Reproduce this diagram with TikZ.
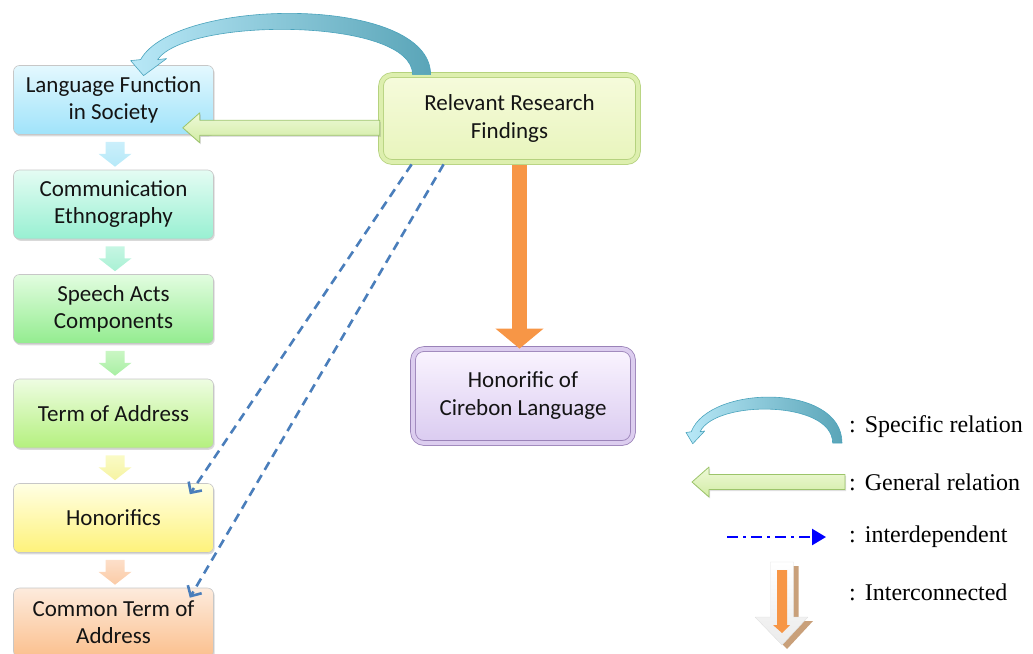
\documentclass[tikz,border=0pt]{standalone}
\usepackage{fontspec}
\setmainfont{Liberation Serif}
\newfontfamily\boxfont{Carlito}
\usetikzlibrary{arrows.meta, positioning, calc, shadows}

\definecolor{lfsTop}{HTML}{E4F8FE}
\definecolor{lfsBot}{HTML}{9FE3FA}
\definecolor{cethTop}{HTML}{E4FCF3}
\definecolor{cethBot}{HTML}{98F0D2}
\definecolor{sacTop}{HTML}{E2FDE0}
\definecolor{sacBot}{HTML}{93EC8F}
\definecolor{toaTop}{HTML}{EEFDE2}
\definecolor{toaBot}{HTML}{B4F07E}
\definecolor{honTop}{HTML}{FFFFE4}
\definecolor{honBot}{HTML}{FEF27A}
\definecolor{ctaTop}{HTML}{FDEBDD}
\definecolor{ctaBot}{HTML}{FBC08E}
\definecolor{chevA}{HTML}{CBEFFB}
\definecolor{chevB}{HTML}{B6E9F8}
\definecolor{chevC}{HTML}{C6F6E3}
\definecolor{chevD}{HTML}{A9F1D4}
\definecolor{chevE}{HTML}{CAF6C4}
\definecolor{chevF}{HTML}{A8EFA3}
\definecolor{chevG}{HTML}{FAFBC6}
\definecolor{chevH}{HTML}{F6F3A2}
\definecolor{chevI}{HTML}{FDDFC9}
\definecolor{chevJ}{HTML}{FBCBA6}
\definecolor{rrfTop}{HTML}{F6FBDC}
\definecolor{rrfBot}{HTML}{E8F5BC}
\definecolor{rrfLine}{HTML}{B5D27E}
\definecolor{rrfBand}{HTML}{DDEFAE}
\definecolor{hclTop}{HTML}{FAF4FF}
\definecolor{hclBot}{HTML}{DACBF0}
\definecolor{hclLine}{HTML}{9A82B8}
\definecolor{hclBand}{HTML}{DCCDEF}
\definecolor{specL}{HTML}{B8E8F7}
\definecolor{specR}{HTML}{5AA5B8}
\definecolor{specLine}{HTML}{4AA3BC}
\definecolor{genTop}{HTML}{EEF9D8}
\definecolor{genBot}{HTML}{D2ECA4}
\definecolor{genLine}{HTML}{9CC46A}
\definecolor{interOrange}{HTML}{F79646}
\definecolor{dashBlue}{HTML}{4A7EBB}
\definecolor{iconShadow}{HTML}{C9A07A}

\tikzstyle{stage} = [rectangle, rounded corners=6pt, minimum width=200pt, minimum height=69pt,
  align=center, draw=black!22, line width=0.6pt, font=\boxfont\fontsize{23}{27}\selectfont,
  text=black!92, drop shadow={shadow xshift=1.2pt, shadow yshift=-1.8pt, opacity=0.3}]
\tikzstyle{bigbox} = [rectangle, rounded corners=11pt, align=center, line width=0.8pt,
  double distance=4pt, font=\boxfont\fontsize{23}{28}\selectfont, text=black!92,
  drop shadow={shadow xshift=1.5pt, shadow yshift=-2pt, opacity=0.3}]
\tikzstyle{interdep} = [dashBlue, line width=2.6pt, dash pattern=on 9pt off 6pt,
  -{Straight Barb[length=8pt, width=16pt]}]
\tikzstyle{interconn} = [interOrange, line width=15pt, -{Triangle[length=20pt, width=47pt]}]
\tikzstyle{legtext} = [anchor=west, inner sep=0pt, font=\fontsize{24}{28}\selectfont]
\tikzstyle{legdash} = [blue, line width=2.5pt, dash pattern=on 11pt off 5pt on 3pt off 5pt,
  -{Triangle[length=14pt, width=16pt]}]

% block chevron between two stacked boxes
\newcommand{\stepdown}[4]{%
  \shade[top color=#3, bottom color=#4]
    ($(#1.south)+(-8,-7)$) -- ($(#1.south)+(11,-7)$) -- ($(#1.south)+(11,-19)$)
    -- ($(#1.south)+(18,-19)$) -- ($(#2.north)+(1.5,3)$) -- ($(#1.south)+(-15,-19)$)
    -- ($(#1.south)+(-8,-19)$) -- cycle;}

% curved ribbon, origin at its right foot
\newcommand{\specificarrow}{%
  \shade[left color=specL, right color=specR, draw=specLine, line width=0.6pt]
    (0,0) .. controls (0,80) and (-255,78) .. (-290,15)
    -- (-300,14) -- (-287,-1) -- (-264,16) -- (-273,15)
    .. controls (-243,58) and (-18,57) .. (-18,0) -- cycle;}

% block arrow pointing left, tip first
\newcommand{\generalarrow}[2]{%
  \shade[top color=genTop, bottom color=genBot, draw=genLine, line width=0.8pt,
         drop shadow={shadow xshift=1pt, shadow yshift=-1.5pt, opacity=0.25}]
    (#1) -- ++(17,15) -- ++(0,-7.5) -- ++(#2,0) -- ++(0,-15) -- ++(-#2,0)
    -- ++(0,-7.5) -- cycle;}

\begin{document}
\begin{tikzpicture}[x=1pt, y=1pt, line join=round]
  \useasboundingbox (0,0) rectangle (1033,-653);

  % stages, top to bottom
  \foreach \nm/\txt/\tc/\bc [count=\i from 0] in {
      lfs/{Language Function\\in Society}/lfsTop/lfsBot,
      ceth/{Communication\\Ethnography}/cethTop/cethBot,
      sac/{Speech Acts\\Components}/sacTop/sacBot,
      toa/{Term of Address}/toaTop/toaBot,
      hon/{Honorifics}/honTop/honBot,
      cta/{Common Term of\\Address}/ctaTop/ctaBot}
    \node[stage, top color=\tc, bottom color=\bc] (\nm) at (113.5, -100-104.5*\i) {\txt};

  % chevrons between the stages
  \foreach \a/\b/\tc/\bc in {lfs/ceth/chevA/chevB, ceth/sac/chevC/chevD,
      sac/toa/chevE/chevF, toa/hon/chevG/chevH, hon/cta/chevI/chevJ}{
    \stepdown{\a}{\b}{\tc}{\bc}
  }

  % research boxes
  \node[bigbox, minimum width=257pt, minimum height=87pt, top color=rrfTop,
        bottom color=rrfBot, draw=rrfLine, double=rrfBand] (rrf) at (509.5,-118.5)
        {Relevant Research\\Findings};
  \node[bigbox, minimum width=220pt, minimum height=94pt, top color=hclTop,
        bottom color=hclBot, draw=hclLine, double=hclBand] (hcl) at (523,-396)
        {Honorific of\\Cirebon Language};

  % specific relation
  \begin{scope}[shift={($(rrf.north west)+(50,0)$)}]
    \specificarrow
  \end{scope}

  % general relation
  \coordinate (gtip) at ($(lfs.south east)+(-31,7)$);
  \generalarrow{gtip}{180}

  % interconnected
  \coordinate (otop) at ($(rrf.south)+(10,-3)$);
  \draw[interconn] (otop) -- (otop |- hcl.north);

  % interdependent
  \draw[interdep] ($(rrf.south west)+(31,-2)$) -- ($(hon.north east)+(-24,-11)$);
  \draw[interdep] ($(rrf.south west)+(63,-2)$) -- ($(cta.north east)+(-24,-10)$);

  % legend
  \begin{scope}[shift={(842,-443)}, xscale=0.52, yscale=0.75]
    \specificarrow
  \end{scope}
  \coordinate (ltip) at (692,-482);
  \generalarrow{ltip}{136}
  \coordinate (ldA) at (727,-537);
  \coordinate (ldB) at (826,-537);
  \draw[legdash] (ldA) -- (ldB);
  \begin{scope}[shift={(782,-562)}]
    \fill[iconShadow] (-6.5,-4) -- (16.5,-4) -- (16.5,-59) -- (31,-59) -- (5,-87)
      -- (-22,-59) -- (-6.5,-59) -- cycle;
    \shade[top color=white, bottom color=black!8, draw=black!12]
      (-11.5,0) -- (11.5,0) -- (11.5,-55) -- (26,-55) -- (0,-83) -- (-27,-55)
      -- (-11.5,-55) -- cycle;
    \fill[interOrange] (-5,-8) -- (5,-8) -- (5,-63) -- (8,-63) -- (0,-71) -- (-9,-63)
      -- (-5,-63) -- cycle;
  \end{scope}

  \foreach \nm/\y/\txt in {lspec/427/Specific relation, lgen/482/General relation,
      lint/537/interdependent, lcon/592/Interconnected}
    \node[legtext] (\nm) at (849,-\y) {:\hspace{9pt}\txt};
\end{tikzpicture}
\end{document}
